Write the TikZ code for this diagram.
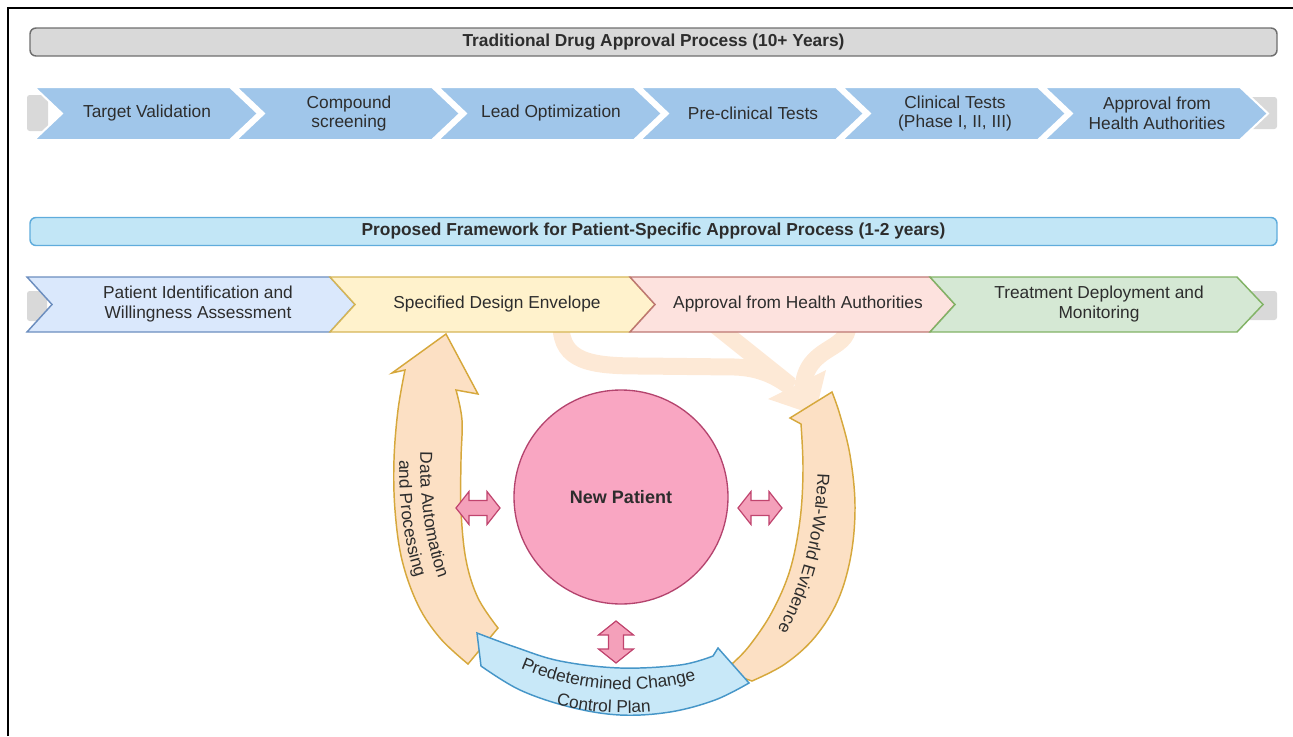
\documentclass[tikz,border=0pt]{standalone}
\usepackage{fontspec}
\setmainfont{Liberation Sans}
\usetikzlibrary{decorations.text}

\definecolor{txt}{RGB}{45,45,45}
\definecolor{barGray}{RGB}{217,217,217}
\definecolor{barGrayLine}{RGB}{110,110,110}
\definecolor{barBlue}{RGB}{194,230,246}
\definecolor{barBlueLine}{RGB}{95,172,220}
\definecolor{stepBlue}{RGB}{160,198,234}
\definecolor{tabGray}{RGB}{217,217,217}
\definecolor{pBlue}{RGB}{218,232,252}
\definecolor{pBlueLine}{RGB}{108,142,191}
\definecolor{pYellow}{RGB}{255,242,204}
\definecolor{pYellowLine}{RGB}{214,182,86}
\definecolor{pRed}{RGB}{253,226,222}
\definecolor{pRedLine}{RGB}{190,120,115}
\definecolor{pGreen}{RGB}{213,232,212}
\definecolor{pGreenLine}{RGB}{130,179,102}
\definecolor{peachFaint}{RGB}{253,233,214}
\definecolor{peach}{RGB}{252,224,196}
\definecolor{gold}{RGB}{214,168,60}
\definecolor{cyanFill}{RGB}{200,232,248}
\definecolor{cyanLine}{RGB}{70,150,200}
\definecolor{pinkFill}{RGB}{249,166,194}
\definecolor{pinkLine}{RGB}{180,68,110}
\definecolor{arrowPink}{RGB}{244,160,186}
\definecolor{arrowPinkLine}{RGB}{192,68,110}

\newcommand{\loopfont}{\fontsize{13}{15}\selectfont\color{txt}}

\begin{document}
\begin{tikzpicture}[x=0.75pt,y=0.75pt,
  ctext/.style={font=\fontsize{13}{14.6}\selectfont, text=txt, align=center, inner sep=0pt},
  btext/.style={font=\bfseries\fontsize{13}{15}\selectfont, text=txt, inner sep=0pt},
  titlebar/.style={rounded corners=4.5pt, line width=1.1pt, minimum width=935.25pt,
                   minimum height=21pt, btext},
  tabbox/.style={fill=tabGray, rounded corners=2pt},
  stepone/.style={fill=stepBlue, draw=white, line width=1.5pt, line join=miter},
  steptwo/.style={line width=1.1pt, line join=miter},
  faintband/.style={draw=peachFaint, line width=12.75pt},
  bigarrow/.style={fill=peach, draw=gold, line width=1.1pt, line join=miter},
  cyanarrow/.style={fill=cyanFill, draw=cyanLine, line width=1.1pt, line join=miter},
  dblarrow/.style={fill=arrowPink, draw=arrowPinkLine, line width=0.9pt, line join=miter},
  curvedlabel/.style={decorate, decoration={text along path, text align=center,
                      text={|\loopfont|#1}}}
]
\useasboundingbox (0,0) rectangle (1293,-736);

% frame edges
\draw[line width=1.5pt] (8,-736) -- (8,-8) -- (1293,-8);

% ---------------- traditional process ----------------
\node[titlebar, fill=barGray, draw=barGrayLine] (trad) at (653.5,-42)
  {Traditional Drug Approval Process (10+ Years)};

\fill[tabbox] (27,-95) rectangle (48,-131);
\fill[tabbox] (1246,-97) rectangle (1277,-129);

\foreach \i/\lab/\txt in {0/tv/Target Validation, 1/cs/{Compound\\screening},
    2/lo/Lead Optimization, 3/pt/Pre-clinical Tests,
    4/ct/{Clinical Tests\\(Phase I, II, III)}, 5/ah/{Approval from\\Health Authorities}} {
  \pgfmathsetmacro\xa{34+202*\i}
  \filldraw[stepone] (\xa,-87) -- ++(196,0) -- ++(28,-26.5) -- ++(-28,-26.5)
      -- ++(-196,0) -- ++(28,26.5) -- cycle;
  \node[ctext] (\lab) at (\xa+113,-113.5) {\txt};
}

% ---------------- proposed framework ----------------
\node[titlebar, fill=barBlue, draw=barBlueLine] (prop) at (653.5,-231.5)
  {Proposed Framework for Patient-Specific Approval Process (1-2 years)};

% faint flow from the envelope and approval steps towards the evidence loop
\draw[faintband] (561,-325) .. controls (561,-362) and (592,-366) .. (640,-366)
   -- (735,-367) .. controls (760,-368) and (776,-376) .. (792,-388);
\draw[faintband] (715,-325) -- (790,-385);
\draw[faintband] (848,-325) .. controls (848,-352) and (806,-345) .. (803,-388);
\fill[peachFaint] (768,-399) -- (826,-370) -- (815,-415) -- cycle;

\fill[tabbox] (27,-291) rectangle (47,-321);
\fill[tabbox] (1246,-291) rectangle (1277,-320);

\filldraw[steptwo, fill=pBlue, draw=pBlueLine] (27,-277) -- (330,-277) -- (355,-304.5)
   -- (330,-332) -- (27,-332) -- (52,-304.5) -- cycle;
\filldraw[steptwo, fill=pYellow, draw=pYellowLine] (330,-277) -- (630,-277) -- (655,-304.5)
   -- (630,-332) -- (330,-332) -- (355,-304.5) -- cycle;
\filldraw[steptwo, fill=pRed, draw=pRedLine] (630,-277) -- (930,-277) -- (955,-304.5)
   -- (930,-332) -- (630,-332) -- (655,-304.5) -- cycle;
\filldraw[steptwo, fill=pGreen, draw=pGreenLine] (930,-277) -- (1237,-277) -- (1263,-304.5)
   -- (1237,-332) -- (930,-332) -- (955,-304.5) -- cycle;

\node[ctext] (pia) at (198,-304) {Patient Identification and\\Willingness Assessment};
\node[ctext] (sde) at (497,-304) {Specified Design Envelope};
\node[ctext] (afh) at (798,-304) {Approval from Health Authorities};
\node[ctext] (tdm) at (1099,-304) {Treatment Deployment and\\Monitoring};

% ---------------- loop around the patient ----------------
% data automation arrow (left)
\filldraw[bigarrow] (446,-334) -- (392,-373) -- (405,-370)
  -- plot[smooth, tension=0.6] coordinates {(405,-370) (398,-410) (394,-460) (395,-510)
       (402,-560) (418,-605) (440,-638) (468,-664)}
  -- (498,-628)
  -- plot[smooth, tension=0.6] coordinates {(498,-628) (478,-598) (466,-560) (461,-510)
       (461,-460) (462,-420) (456,-390)}
  -- (478,-394) -- cycle;
\path[curvedlabel={Data Automation}]
  (421,-440) .. controls (418,-490) and (424,-545) .. (443,-590);
\path[curvedlabel={and Processing}]
  (400,-445) .. controls (397,-495) and (403,-548) .. (421,-592);

% real-world evidence arrow (right)
\filldraw[bigarrow] (832,-392) -- (790,-418) -- (801,-424)
  -- plot[smooth, tension=0.6] coordinates {(801,-424) (803,-470) (800,-520) (790,-570)
       (772,-612) (750,-645) (733,-663) (723,-671)}
  -- (752,-681)
  -- plot[smooth, tension=0.6] coordinates {(752,-681) (785,-664) (815,-637) (838,-600)
       (851,-555) (855,-505) (850,-455) (840,-415) (832,-392)}
  -- cycle;
\path[curvedlabel={Real-World Evidence}]
  (818,-455) .. controls (818,-520) and (805,-590) .. (768,-645);

% change control plan arrow (bottom)
\filldraw[cyanarrow] (477,-633) -- (481,-666)
  -- plot[smooth, tension=0.6] coordinates {(481,-666) (520,-690) (570,-707) (620,-715)
       (670,-712) (715,-700) (749,-683)}
  -- (718,-648) -- (713,-656)
  -- plot[smooth, tension=0.6] coordinates {(713,-656) (680,-665) (620,-668) (560,-661)
       (515,-647) (477,-633)}
  -- cycle;
\coordinate (ccc) at (626,-423);
\path[curvedlabel={Predetermined Change}]
  (ccc) ++(-124:200pt) arc[start angle=-124, end angle=-64, radius=200pt];
\path[curvedlabel={Control Plan}]
  (ccc) ++(-120:217.5pt) arc[start angle=-120, end angle=-69, radius=217.5pt];

% patient
\node[circle, minimum size=160.5pt, fill=pinkFill, draw=pinkLine, line width=1pt,
      btext, font=\bfseries\fontsize{13.5}{15}\selectfont] (patient) at (621,-497) {New Patient};

% two-way links to the patient
\begin{scope}[shift={(478,-508)}]
  \filldraw[dblarrow] (-22,0) -- (-9,16.5) -- (-9,7.5) -- (9,7.5) -- (9,16.5) -- (22,0)
    -- (9,-16.5) -- (9,-7.5) -- (-9,-7.5) -- (-9,-16.5) -- cycle;
\end{scope}
\begin{scope}[shift={(760,-508)}]
  \filldraw[dblarrow] (-22,0) -- (-9,16.5) -- (-9,7.5) -- (9,7.5) -- (9,16.5) -- (22,0)
    -- (9,-16.5) -- (9,-7.5) -- (-9,-7.5) -- (-9,-16.5) -- cycle;
\end{scope}
\begin{scope}[shift={(616,-642)}]
  \filldraw[dblarrow] (0,21) -- (17.5,7) -- (7.5,7) -- (7.5,-7) -- (17.5,-7) -- (0,-21)
    -- (-17.5,-7) -- (-7.5,-7) -- (-7.5,7) -- (-17.5,7) -- cycle;
\end{scope}
\end{tikzpicture}
\end{document}
